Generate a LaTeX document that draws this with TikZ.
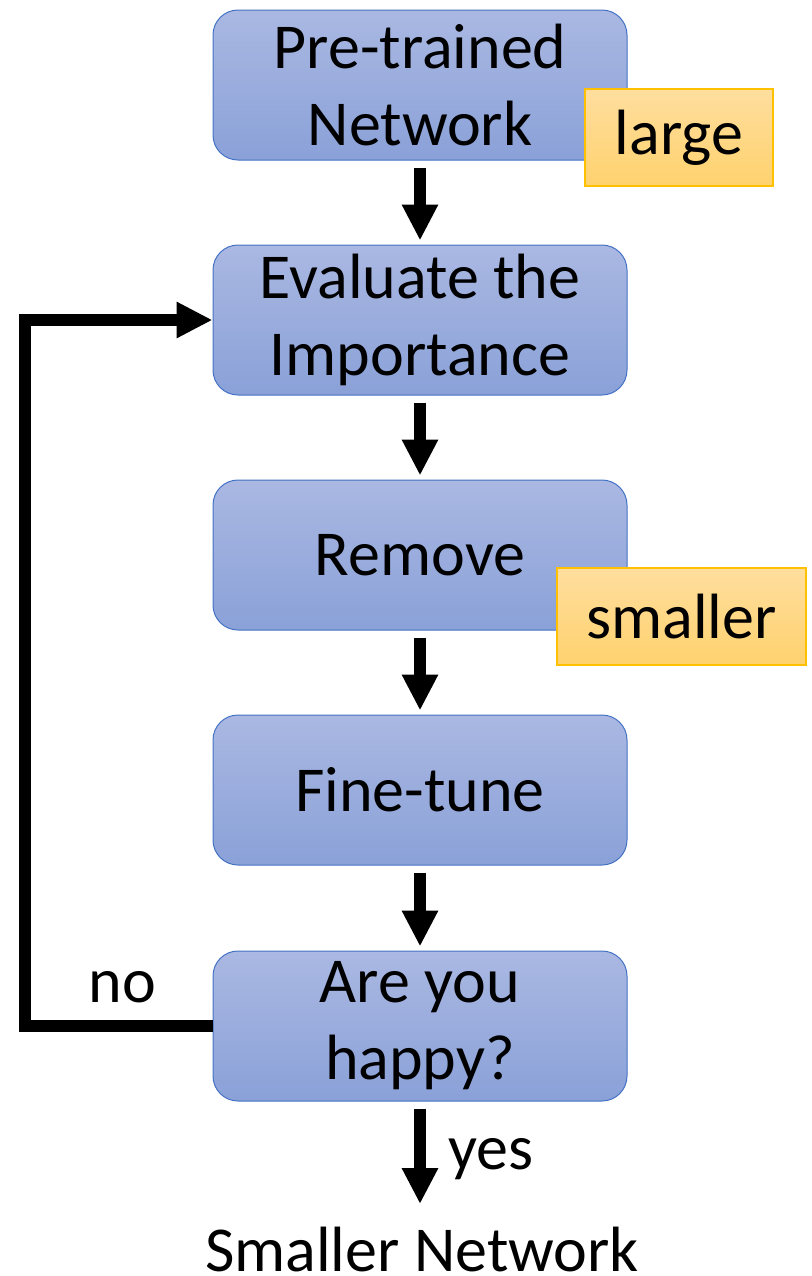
\documentclass[tikz,border=0pt]{standalone}
\usepackage{fontspec}
\setmainfont{Carlito}
\usetikzlibrary{arrows.meta,positioning}
\definecolor{boxtop}{RGB}{170,184,226}
\definecolor{boxbot}{RGB}{138,161,216}
\definecolor{boxline}{RGB}{68,114,196}
\definecolor{tagtop}{RGB}{255,222,158}
\definecolor{tagbot}{RGB}{255,210,110}
\definecolor{tagline}{RGB}{255,192,0}
\begin{document}
\begin{tikzpicture}[
    x=0.5pt, y=-0.5pt,
    font=\fontsize{32pt}{38.5pt}\selectfont,
    stepbox/.style={draw=boxline, line width=0.5pt, rounded corners=12.5pt,
        top color=boxtop, bottom color=boxbot, align=center,
        minimum width=207pt, minimum height=75pt, inner sep=0pt},
    tagbox/.style={draw=tagline, line width=0.6pt, top color=tagtop,
        bottom color=tagbot, minimum height=48.5pt, inner sep=0pt},
    flow/.style={line width=6pt, -{Triangle[length=18pt,width=17pt]}},
    gap/.style={shorten <=3.5pt, shorten >=2pt}
]
\useasboundingbox (0,0) rectangle (811,1276);

% Steps
\node[stepbox] (pre)   at (420,85)   {Pre-trained\\Network};
\node[stepbox] (eval)  at (420,320)  {Evaluate the\\Importance};
\node[stepbox] (remove) at (420,555) {Remove};
\node[stepbox] (tune)  at (420,790)  {Fine-tune};
\node[stepbox] (happy) at (420,1026) {Are you\\happy?};

% Size tags
\node[tagbox, minimum width=94pt]    (large)   at (679,137.5) {large};
\node[tagbox, minimum width=124.5pt] (smaller) at (681.5,616.5) {smaller};

% Result
\node[inner sep=0pt, anchor=base] (result) at (422,1271) {Smaller Network};
\coordinate (resin) at (420,1204);

% Main flow
\draw[flow, gap] (pre) -- (eval);
\draw[flow, gap] (eval) -- (remove);
\draw[flow, gap] (remove) -- (tune);
\draw[flow, gap] (tune) -- (happy);
\draw[flow, shorten <=3.5pt] (happy) -- node[right=8pt, yshift=-3pt] {yes} (resin);

% Loop back
\draw[flow] (happy.west) -- node[above=5pt, pos=0.48] {no} ++(-188,0) |- (eval.west);

\end{tikzpicture}
\end{document}
